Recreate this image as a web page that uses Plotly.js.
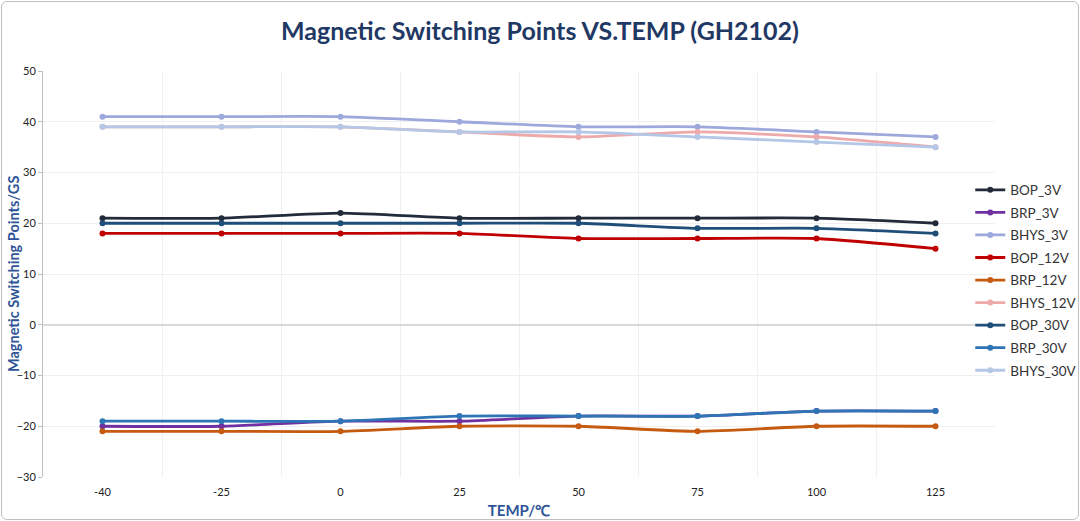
<!DOCTYPE html>
<html>
<head>
<meta charset="utf-8">
<script src="https://cdn.plot.ly/plotly-3.0.1.min.js"></script>
<style>
html,body{margin:0;padding:0;background:#fff;}
#wrap{position:relative;width:1080px;height:521px;}
#chart{width:1080px;height:521px;}
#frame{position:absolute;left:1px;top:1px;width:1076px;height:517px;border:1px solid #bfbfbf;border-radius:6px;pointer-events:none;}
</style>
</head>
<body>
<div id="wrap"><div id="chart"></div><div id="frame"></div></div>
<script>
const temps = ['-40','-25','0','25','50','75','100','125'];
const BOP_3V   = [21, 21, 22, 21, 21, 21, 21, 20];
const BRP_3V   = [-20, -20, -19, -19, -18, -18, -17, -17];
const BHYS_3V  = [41, 41, 41, 40, 39, 39, 38, 37];
const BOP_12V  = [18, 18, 18, 18, 17, 17, 17, 15];
const BRP_12V  = [-21, -21, -21, -20, -20, -21, -20, -20];
const BHYS_12V = [39, 39, 39, 38, 37, 38, 37, 35];
const BOP_30V  = [20, 20, 20, 20, 20, 19, 19, 18];
const BRP_30V  = [-19, -19, -19, -18, -18, -18, -17, -17];
const BHYS_30V = [39, 39, 39, 38, 38, 37, 36, 35];

const seriesNames = ['BOP_3V','BRP_3V','BHYS_3V','BOP_12V','BRP_12V','BHYS_12V','BOP_30V','BRP_30V','BHYS_30V'];
const seriesData = [BOP_3V,BRP_3V,BHYS_3V,BOP_12V,BRP_12V,BHYS_12V,BOP_30V,BRP_30V,BHYS_30V];
const seriesColors = ['#222b3a','#7030a0','#9da8dc','#c00000','#c55a11','#eeaaaa','#1f4e79','#2e75b6','#b4c7e7'];

const traces = seriesNames.map((n,i)=>({
  type:'scatter', mode:'lines+markers', name:n, x:temps, y:seriesData[i],
  legendgroup:n,
  line:{color:seriesColors[i], width:2.8, shape:'spline', smoothing:0.6},
  marker:{color:seriesColors[i], size:6}
}));

const layout = {
  width:1080, height:521,
  margin:{l:43, r:85, t:71, b:44, autoexpand:false},
  paper_bgcolor:'#fff', plot_bgcolor:'#fff',
  font:{family:'Lato, "Open Sans", sans-serif', color:'#222'},
  title:{text:'<b>Magnetic Switching Points VS.TEMP (GH2102)</b>', font:{size:25, color:'#1f3864', family:'Lato, sans-serif'}, x:0.5, xanchor:'center', y:0.94, yanchor:'middle', yref:'container'},
  xaxis:{type:'category', range:[-0.5, 7.5], autorange:false, tickson:'boundaries', showgrid:true, gridcolor:'#f0f0f0', gridwidth:1,
    showline:false, ticks:'', zeroline:false, tickfont:{size:11, color:'#222'}, ticklabelstandoff:7,
    title:{text:'<b>TEMP/℃</b>', font:{size:15, color:'#2f5597'}, standoff:8}},
  yaxis:{range:[-30,50], autorange:false, dtick:10, showgrid:true, gridcolor:'#f0f0f0', gridwidth:1,
    zeroline:true, zerolinecolor:'#d9d9d9', zerolinewidth:2,
    showline:true, linecolor:'#bfbfbf', linewidth:1, ticks:'outside', ticklen:4, tickcolor:'#bfbfbf',
    tickfont:{size:11, color:'#222'}},
  annotations:[{text:'<b>Magnetic Switching Points/GS</b>', xref:'paper', yref:'paper', x:-0.0315, y:0.5,
    xanchor:'center', yanchor:'middle', textangle:-90, showarrow:false, font:{size:14.5, color:'#2f5597'}}],
  legend:{x:0.974, xanchor:'left', y:0.485, yanchor:'middle', font:{size:13.5, color:'#333'}, bgcolor:'rgba(0,0,0,0)', itemwidth:30, traceorder:'grouped', tracegroupgap:2},
  showlegend:true
};
Plotly.newPlot('chart', traces, layout, {displayModeBar:false, staticPlot:true});
</script>
</body>
</html>
